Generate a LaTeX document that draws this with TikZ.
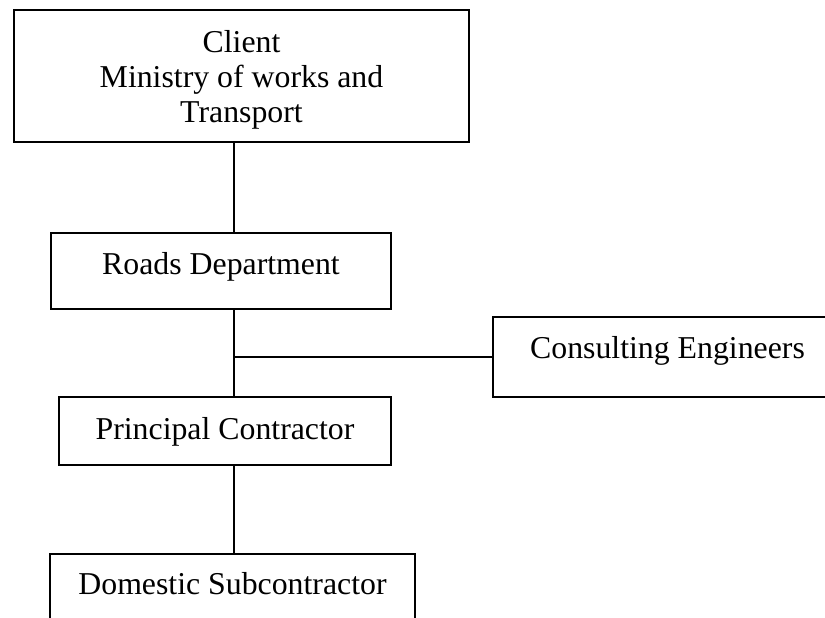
\documentclass[tikz,border=0pt]{standalone}
\usepackage{fontspec}
\setmainfont{Liberation Serif}

\begin{document}
\begin{tikzpicture}[x=1pt, y=-1pt,
  orgbox/.style={draw=black, line width=2pt, fill=white, inner sep=0pt,
        font=\fontsize{31.8}{35}\selectfont, anchor=north west},
  link/.style={draw=black, line width=1.4pt}]

  \clip (0,0) rectangle (825,618);
  \coordinate (spine) at (234,0);

  % Client
  \node[orgbox, align=center, minimum width=455pt, text height=112pt, text depth=20pt] (client)
        at (13,9) {Client\\Ministry of works and\\Transport};

  % Roads Department
  \node[orgbox, minimum width=340pt, text height=41pt, text depth=35pt] (roads)
        at (50,232) {Roads Department};

  % Consulting Engineers (runs off the right edge)
  \node[orgbox, minimum width=349pt, text height=41pt, text depth=39pt] (consult)
        at (492,316) {Consulting Engineers};

  % Principal Contractor
  \node[orgbox, minimum width=332pt, text height=42pt, text depth=26pt] (principal)
        at (58,396) {Principal Contractor};

  % Domestic Subcontractor
  \node[orgbox, minimum width=365pt, text height=40pt, text depth=40pt] (domestic)
        at (49,553) {Domestic Subcontractor};

  % links
  \draw[link] (client.south -| spine) -- (roads.north -| spine);
  \draw[link] (roads.south -| spine) -- (principal.north -| spine);
  \draw[link] (consult.west -| spine) -- (consult.west);
  \draw[link] (principal.south -| spine) -- (domestic.north -| spine);

\end{tikzpicture}
\end{document}
